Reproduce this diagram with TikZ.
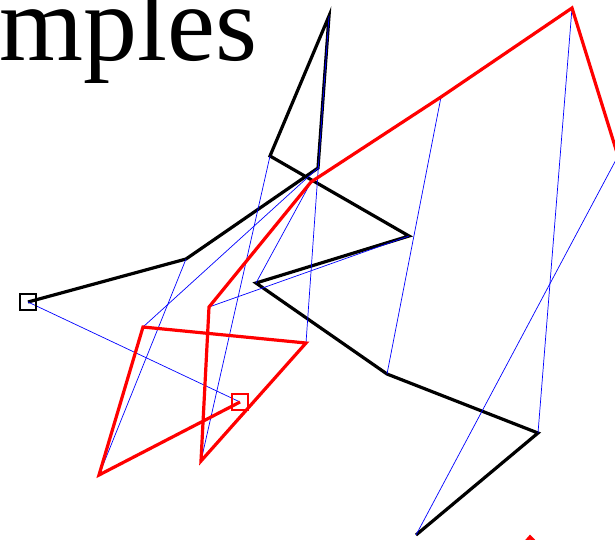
\documentclass[tikz,border=0pt]{standalone}
\usepackage{fontspec}
\setmainfont{Liberation Serif}
\usetikzlibrary{positioning}
\begin{document}
\begin{tikzpicture}[x=1pt, y=-1pt,
  trail/.style={line width=3.2pt},
  link/.style={draw=blue, line width=0.7pt},
  endbox/.style={draw, line width=1.5pt, minimum size=16pt, inner sep=0pt}
]
  \useasboundingbox (0,0) rectangle (615,539);
  \clip (0,0) rectangle (615,539);
  \node[anchor=base west, inner sep=0pt, font=\fontsize{108}{108}\selectfont] (title) at (-1,60) {mples};
  \foreach \x/\y [count=\i] in {28/302, 186/259, 318/168, 329/16, 270/156, 409/236, 256/283, 387/374, 538/433, 416/535}
    \coordinate (b\i) at (\x,\y);
  \foreach \x/\y [count=\i] in {240/402, 99/475, 143/327, 306/343, 201/461, 209/307, 311/182, 441/97, 572/8, 618/156}
    \coordinate (r\i) at (\x,\y);
  \coordinate (tipa) at (526.5,541);
  \coordinate (tipb) at (530,537);
  \coordinate (tipc) at (534,541);
  \draw[trail] (b1) \foreach \i in {2,...,10} { -- (b\i) };
  \foreach \i in {1,...,10}
    \draw[link] (b\i) -- (r\i);
  \draw[trail, red] (r1) \foreach \i in {2,...,10} { -- (r\i) };
  \draw[trail, red] (tipa) -- (tipb) -- (tipc);
  \node[endbox, draw=black] (startb) at (b1) {};
  \node[endbox, draw=red] (startr) at (r1) {};
\end{tikzpicture}
\end{document}
